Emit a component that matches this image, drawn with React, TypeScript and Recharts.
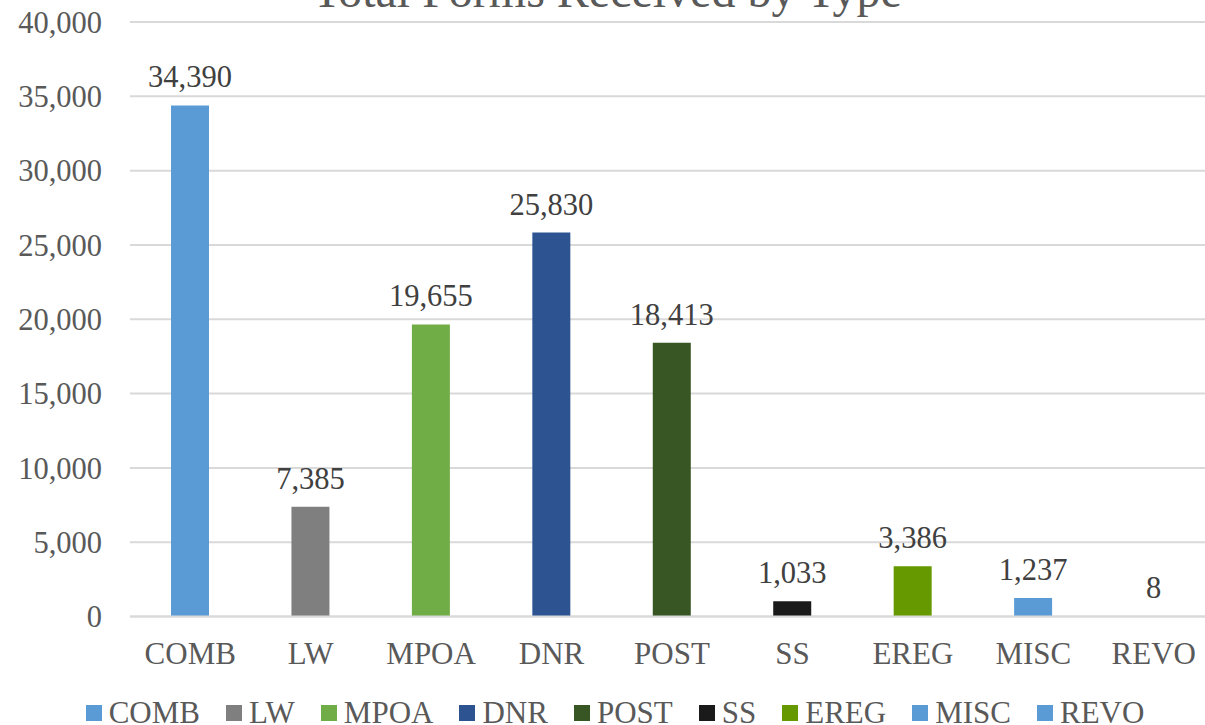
import { BarChart, Bar, XAxis, YAxis, CartesianGrid, Cell, LabelList } from 'recharts';

const chartTitle = 'Total Forms Received by Type';
const categories = ['COMB', 'LW', 'MPOA', 'DNR', 'POST', 'SS', 'EREG', 'MISC', 'REVO'];
const formCounts = [34390, 7385, 19655, 25830, 18413, 1033, 3386, 1237, 8];
const barColors = ['#5B9BD5', '#7F7F7F', '#70AD47', '#2E5391', '#375623', '#1A1A1A', '#669900', '#5B9BD5', '#5B9BD5'];
const yTicks = [0, 5000, 10000, 15000, 20000, 25000, 30000, 35000, 40000];

const data = categories.map((name, i) => ({ name, value: formCounts[i] }));

const FONT = '"Liberation Serif", "Times New Roman", serif';
const fmt = (v: any) => Number(v).toLocaleString('en-US');

export default function App() {
  return (
    <div
      style={{
        position: 'absolute',
        left: 0,
        top: 0,
        width: 1205,
        height: 725,
        overflow: 'hidden',
        background: '#fff',
        fontFamily: FONT,
      }}
    >
      <BarChart
        width={1214}
        height={725}
        data={data}
        margin={{ top: 22, right: 0, bottom: 68.5, left: 0 }}
      >
        <CartesianGrid vertical={false} stroke="#D9D9D9" strokeWidth={2} />
        <XAxis
          dataKey="name"
          height={40}
          tickLine={false}
          tickSize={0}
          tickMargin={25}
          axisLine={{ stroke: '#D9D9D9', strokeWidth: 2 }}
          tick={{ fontFamily: FONT, fontSize: 31, fill: '#595959' }}
          interval={0}
        />
        <YAxis
          width={130}
          domain={[0, 40000]}
          ticks={yTicks}
          axisLine={false}
          tickLine={false}
          tickSize={0}
          tickMargin={28}
          tickFormatter={fmt}
          tick={{ fontFamily: FONT, fontSize: 30.5, fill: '#595959' }}
        />
        <Bar dataKey="value" barSize={38} isAnimationActive={false}>
          {data.map((d, i) => (
            <Cell key={d.name} fill={barColors[i]} />
          ))}
          <LabelList
            dataKey="value"
            position="top"
            offset={18}
            formatter={fmt}
            style={{ fontFamily: FONT, fontSize: 30.5, fill: '#404040' }}
          />
        </Bar>
      </BarChart>

      <div
        style={{
          position: 'absolute',
          left: 0,
          top: -33,
          width: 1214,
          textAlign: 'center',
          fontSize: 48,
          lineHeight: '48px',
          color: '#595959',
          whiteSpace: 'nowrap',
        }}
      >
        {chartTitle}
      </div>

      <div
        style={{
          position: 'absolute',
          left: 8,
          top: 698,
          width: 1214,
          display: 'flex',
          justifyContent: 'center',
          alignItems: 'center',
          gap: 26,
          fontSize: 31,
          lineHeight: '30px',
          color: '#595959',
          whiteSpace: 'nowrap',
        }}
      >
        {categories.map((name, i) => (
          <div key={name} style={{ display: 'flex', alignItems: 'center' }}>
            <span
              style={{
                display: 'inline-block',
                width: 16,
                height: 16,
                background: barColors[i],
                marginRight: 7,
              }}
            />
            <span>{name}</span>
          </div>
        ))}
      </div>
    </div>
  );
}
